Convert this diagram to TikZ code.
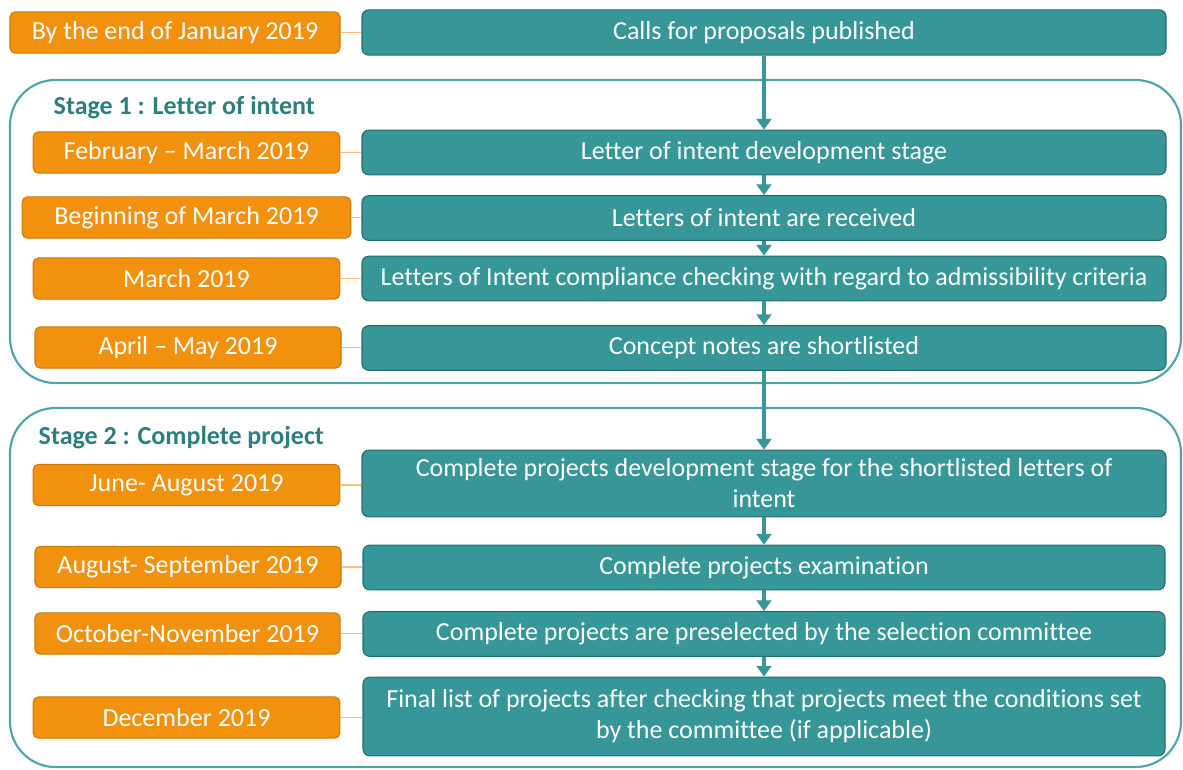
\documentclass[tikz,border=0pt]{standalone}
\usepackage{fontspec}
\setmainfont{Carlito}[Ligatures=NoCommon]
\usepackage{tikz}
\usetikzlibrary{arrows.meta, positioning}
\definecolor{dateorange}{RGB}{241, 145, 14}
\definecolor{dateedge}{RGB}{204, 120, 12}
\definecolor{stepteal}{RGB}{54, 150, 152}
\definecolor{stepedge}{RGB}{38, 108, 110}
\definecolor{stageteal}{RGB}{78, 165, 168}
\definecolor{labelteal}{RGB}{46, 126, 128}
\definecolor{linkorange}{RGB}{246, 190, 122}
\newcommand{\boxfont}{\fontsize{19.5}{23.25}\selectfont}

\begin{document}
\begin{tikzpicture}[x=0.75pt, y=-0.75pt,
    datebox/.style={draw=dateedge, fill=dateorange, text=white, line width=0.8pt,
      rounded corners=4pt, minimum height=31pt, inner sep=2pt, font=\boxfont},
    stepbox/.style={draw=stepedge, fill=stepteal, text=white, line width=0.8pt,
      rounded corners=5pt, minimum width=603pt, minimum height=33.5pt,
      inner sep=2pt, align=center, font=\boxfont},
    flow/.style={-{Triangle[width=11pt, length=8pt]}, line width=2.8pt, stepteal},
    link/.style={linkorange, line width=1.1pt},
    stagebox/.style={stageteal, line width=1.6pt, rounded corners=34pt},
    stagelabel/.style={anchor=west, text=labelteal, font=\boxfont\bfseries}]
  \useasboundingbox (0, 0) rectangle (1183, 769);

  % --- Stage frames ---
  \draw[stagebox] (10, 80) rectangle (1181, 383);
  \draw[stagebox] (10, 408) rectangle (1181, 767);
  \node[stagelabel] (s1) at (49, 108) {Stage 1 : Letter of intent};
  \node[stagelabel] (s2) at (34, 438) {Stage 2 : Complete project};

  % --- Calls ---
  \node[datebox, minimum width=247.5pt] (d0) at (175, 32.5) {By the end of January 2019};
  \node[stepbox, minimum height=34pt] (t0) at (764, 32.5) {Calls for proposals published};

  % --- Stage 1 ---
  \node[datebox, minimum width=230pt] (d1) at (186.5, 152.5) {February -- March 2019};
  \node[stepbox] (t1) at (764, 152.5) {Letter of intent development stage};
  \node[datebox, minimum width=246.5pt] (d2) at (186.5, 217.5) {Beginning of March 2019};
  \node[stepbox] (t2) at (764, 218) {Letters of intent are received};
  \node[datebox, minimum width=230pt] (d3) at (186.5, 278.5) {March 2019};
  \node[stepbox] (t3) at (764, 278.5)
    {Letters of Intent compliance checking with regard to admissibility criteria};
  \node[datebox, minimum width=229.5pt] (d4) at (188, 347.5) {April -- May 2019};
  \node[stepbox] (t4) at (764, 348) {Concept notes are shortlisted};

  % --- Stage 2 ---
  \node[datebox, minimum width=230pt] (d5) at (186.5, 485) {June- August 2019};
  \node[stepbox, minimum height=50pt] (t5) at (764, 483.5)
    {Complete projects development stage for the shortlisted letters of\\ intent};
  \node[datebox, minimum width=229.5pt] (d6) at (188, 567) {August- September 2019};
  \node[stepbox, minimum width=601.5pt] (t6) at (764, 567.5) {Complete projects examination};
  \node[datebox, minimum width=229pt] (d7) at (187.5, 633.5) {October-November 2019};
  \node[stepbox, minimum width=601.5pt] (t7) at (764, 634)
    {Complete projects are preselected by the selection committee};
  \node[datebox, minimum width=230pt] (d8) at (186.5, 717.5) {December 2019};
  \node[stepbox, minimum width=601.5pt, minimum height=59pt] (t8) at (764, 716.5)
    {Final list of projects after checking that projects meet the conditions set\\
     by the committee (if applicable)};

  % Date links
  \foreach \i in {0,...,8}
    \draw[link] (d\i.east) -- (t\i.west |- d\i.east);

  % Flow arrows
  \foreach \a/\b in {0/1, 1/2, 2/3, 3/4, 4/5, 5/6, 6/7, 7/8}
    \draw[flow] (t\a.south) -- (t\b.north);
\end{tikzpicture}
\end{document}
